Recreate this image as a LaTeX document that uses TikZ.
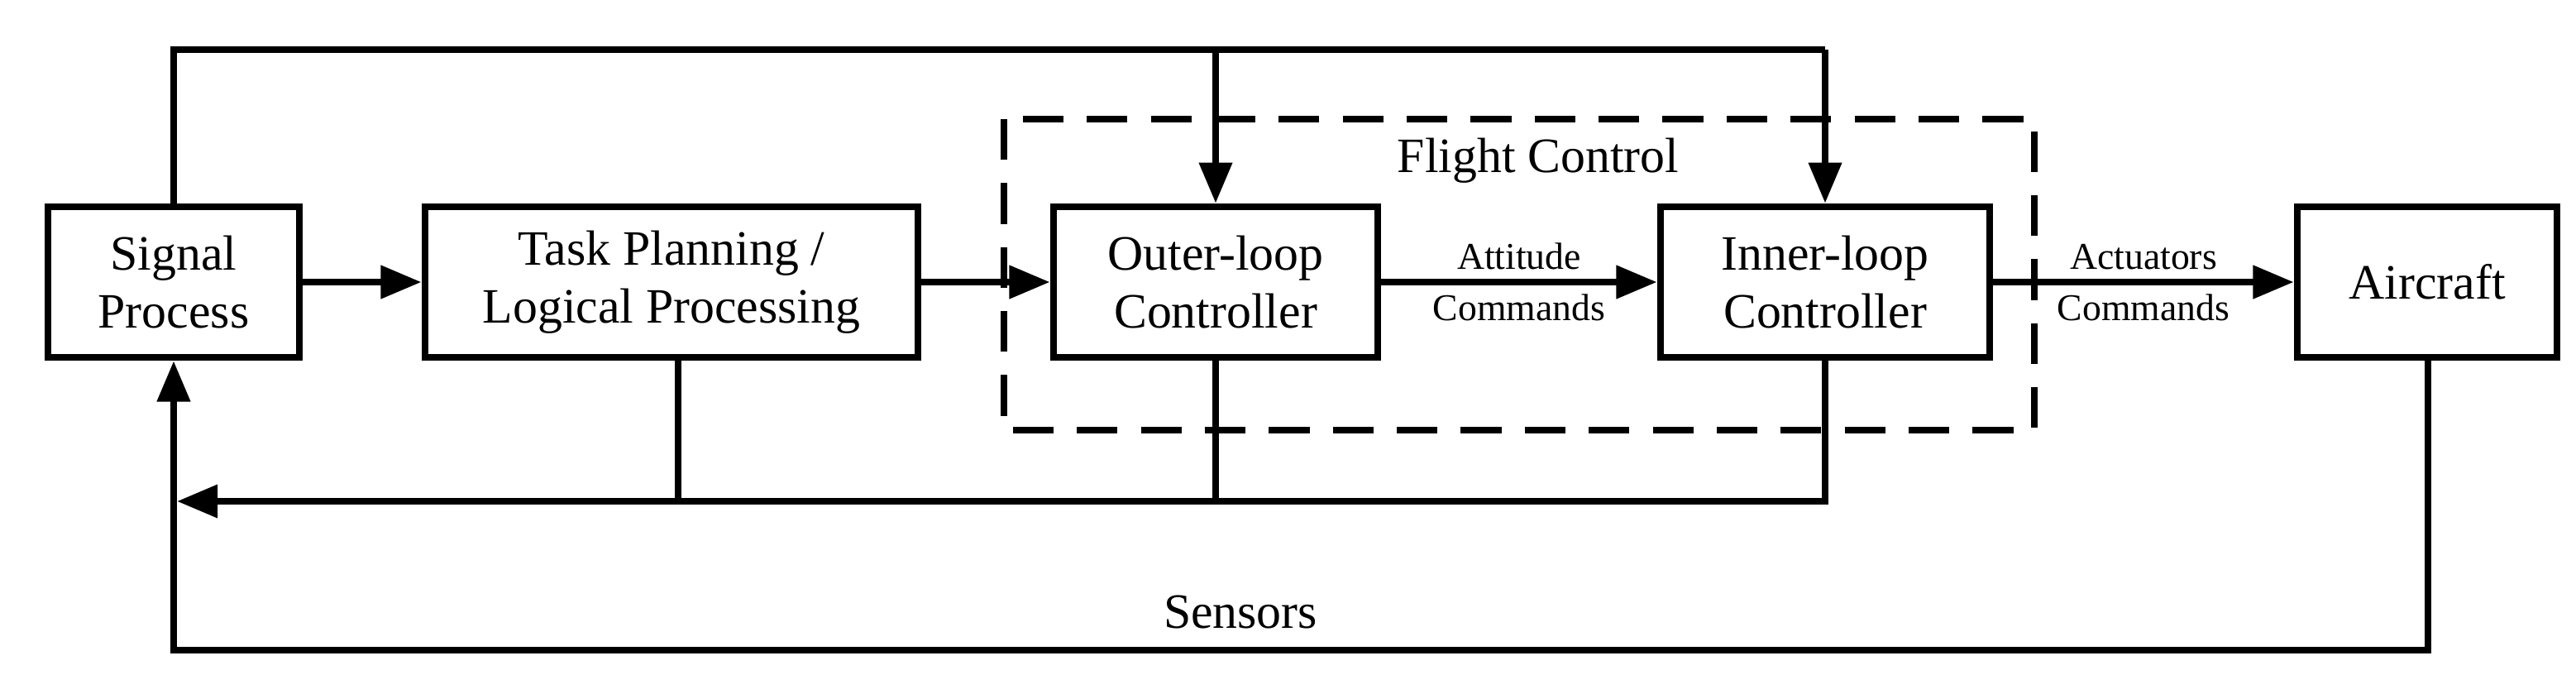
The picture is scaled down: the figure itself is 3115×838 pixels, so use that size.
\documentclass[tikz,border=0pt]{standalone}
\usepackage{fontspec}
\setmainfont{Liberation Serif}
\usetikzlibrary{arrows.meta}
\begin{document}
\begin{tikzpicture}[x=0.01cm,y=-0.01cm,
  box/.style={draw,line width=2.4pt,minimum height=1.82cm,inner sep=0pt,align=center,font=\fontsize{17}{20}\selectfont},
  ln/.style={line width=2.4pt},
  ar/.style={ln,-{Triangle[length=14pt,width=11pt]}},
  lab/.style={font=\fontsize{13}{15}\selectfont,align=center,inner sep=1pt}]
\useasboundingbox (0,0) rectangle (3115,838);
\node[box,minimum width=3.04cm] (s) at (210,341) {Signal\\Process};
\node[box,minimum width=5.96cm] (t) at (812,341) {Task Planning /\\Logical Processing};
\node[box,minimum width=3.92cm] (o) at (1470,341) {Outer-loop\\Controller};
\node[box,minimum width=3.98cm] (i) at (2207,341) {Inner-loop\\Controller};
\node[box,minimum width=3.14cm] (ac) at (2935,341) {Aircraft};
\draw[ln,dash pattern=on 14pt off 8pt] (1214,144) rectangle (2460,520);
\node[font=\fontsize{17}{20}\selectfont] (fc) at (1860,194) {Flight Control};
\draw[ar] (s) -- (t);
\draw[ar] (t) -- (o);
\draw[ar] (o) -- node[lab,above=2pt]{Attitude} node[lab,below=2pt]{Commands} (i);
\draw[ar] (i) -- node[lab,above=2pt]{Actuators} node[lab,below=2pt]{Commands} (ac);
\coordinate (top1) at (210,60);
\coordinate (top2) at (1470,60);
\coordinate (top3) at (2207,60);
\draw[ln] (s.north) -- (top1) -- (top3);
\draw[ar] (top2) -- (o.north);
\draw[ar] (top3) -- (i.north);
\coordinate (fbl) at (214,606);
\coordinate (tb) at (820,606);
\draw[ar] (i.south) |- (fbl);
\draw[ln] (o.south) -- (1470,606);
\draw[ln] (t.south -| tb) -- (tb);
\coordinate (ab) at (2936,786);
\coordinate (sb) at (210,786);
\draw[ar] (ac.south -| ab) -- (ab) -- (sb) -- (s.south);
\node[font=\fontsize{17}{20}\selectfont] (sen) at (1500,740) {Sensors};
\end{tikzpicture}
\end{document}
